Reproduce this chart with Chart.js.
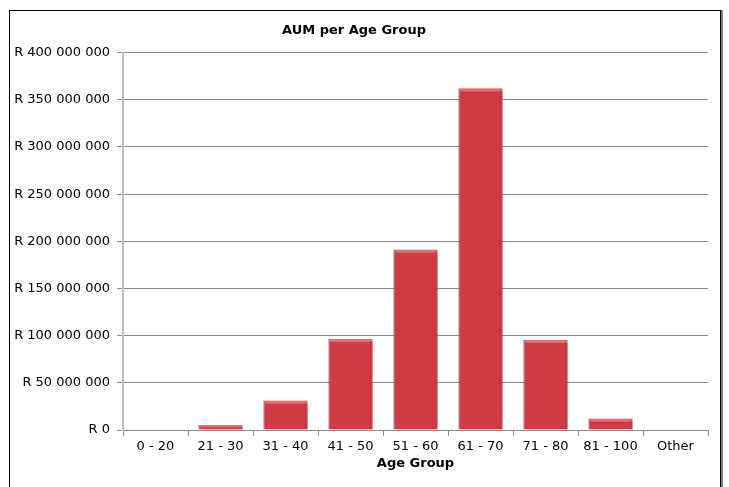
<!DOCTYPE html>
<html>
<head>
<meta charset="utf-8">
<script src="https://cdn.jsdelivr.net/npm/chart.js@4/dist/chart.umd.min.js"></script>
<style>
  html, body { margin: 0; padding: 0; background: #fff; }
  #wrap { position: relative; width: 729px; height: 487px; overflow: hidden; }
  #frame {
    position: absolute; left: 9px; top: 10px; width: 710px; height: 490px;
    border: 1px solid #000; box-shadow: 2px 0 0 #7f7f7f;
  }
  #c { position: absolute; left: 0; top: 0; }
</style>
</head>
<body>
<div id="wrap">
  <div id="frame"></div>
  <canvas id="c" width="729" height="487"></canvas>
</div>
<script>
// --- data ---
const ageGroups = ['0 - 20', '21 - 30', '31 - 40', '41 - 50', '51 - 60', '61 - 70', '71 - 80', '81 - 100', 'Other'];
const aumValues = [0, 5200000, 31000000, 96500000, 191000000, 362000000, 95500000, 12000000, 0];
const yMax = 400000000;
const yStep = 50000000;

const FONT = "'DejaVu Sans', sans-serif";

const formatRand = v => 'R ' + String(Math.round(v)).replace(/\B(?=(\d{3})+(?!\d))/g, ' ');

// light bevel on top of every bar, drawn from the bar elements' own geometry
const bevel = {
  id: 'bevel',
  afterDatasetsDraw(chart) {
    const ctx = chart.ctx;
    chart.getDatasetMeta(0).data.forEach(bar => {
      const h = bar.base - bar.y;
      if (h < 1) return;
      const left = bar.x - bar.width / 2, right = bar.x + bar.width / 2;
      const b = Math.min(3, h / 2);
      ctx.save();
      ctx.fillStyle = '#ee6a70';
      ctx.beginPath();
      ctx.moveTo(left, bar.y);
      ctx.lineTo(right, bar.y);
      ctx.lineTo(right - b, bar.y + b);
      ctx.lineTo(left + b, bar.y + b);
      ctx.closePath();
      ctx.fill();
      ctx.fillStyle = 'rgba(120,20,30,0.35)';
      ctx.fillRect(right - 2, bar.y + b, 2, h - b);
      ctx.restore();
    });
  }
};

new Chart(document.getElementById('c').getContext('2d'), {
  type: 'bar',
  data: {
    labels: ageGroups,
    datasets: [{
      label: 'AUM',
      data: aumValues,
      backgroundColor: '#d13a43',
      borderColor: '#a8303a',
      borderWidth: 1,
      barPercentage: 0.68,
      categoryPercentage: 1
    }]
  },
  options: {
    responsive: false,
    animation: false,
    devicePixelRatio: 1,
    layout: { padding: { left: 0, right: 21, top: 0, bottom: 16 } },
    plugins: {
      legend: { display: false },
      tooltip: { enabled: false },
      title: {
        display: true,
        text: 'AUM per Age Group',
        color: '#000',
        font: { family: FONT, size: 13, weight: 'bold' },
        padding: { top: 23, bottom: 14 }
      }
    },
    scales: {
      x: {
        grid: { display: true, drawOnChartArea: false, drawTicks: true, tickLength: 6, color: '#8a8a8a' },
        border: { display: true, color: '#8a8a8a' },
        ticks: { color: '#000', font: { family: FONT, size: 13 }, padding: 3, maxRotation: 0 },
        title: {
          display: true,
          text: 'Age Group',
          color: '#000',
          font: { family: FONT, size: 13, weight: 'bold' },
          padding: { top: 0, bottom: 0 }
        },
        afterFit: s => { s.height = 41; }
      },
      y: {
        min: 0,
        max: yMax,
        ticks: {
          stepSize: yStep,
          color: '#000',
          font: { family: FONT, size: 13 },
          padding: 7,
          callback: v => formatRand(v)
        },
        grid: { color: '#8a8a8a', tickLength: 6 },
        border: { color: '#bfbfbf', width: 2 },
        afterFit: s => { s.width = 123; }
      }
    }
  },
  plugins: [bevel]
});
</script>
</body>
</html>
